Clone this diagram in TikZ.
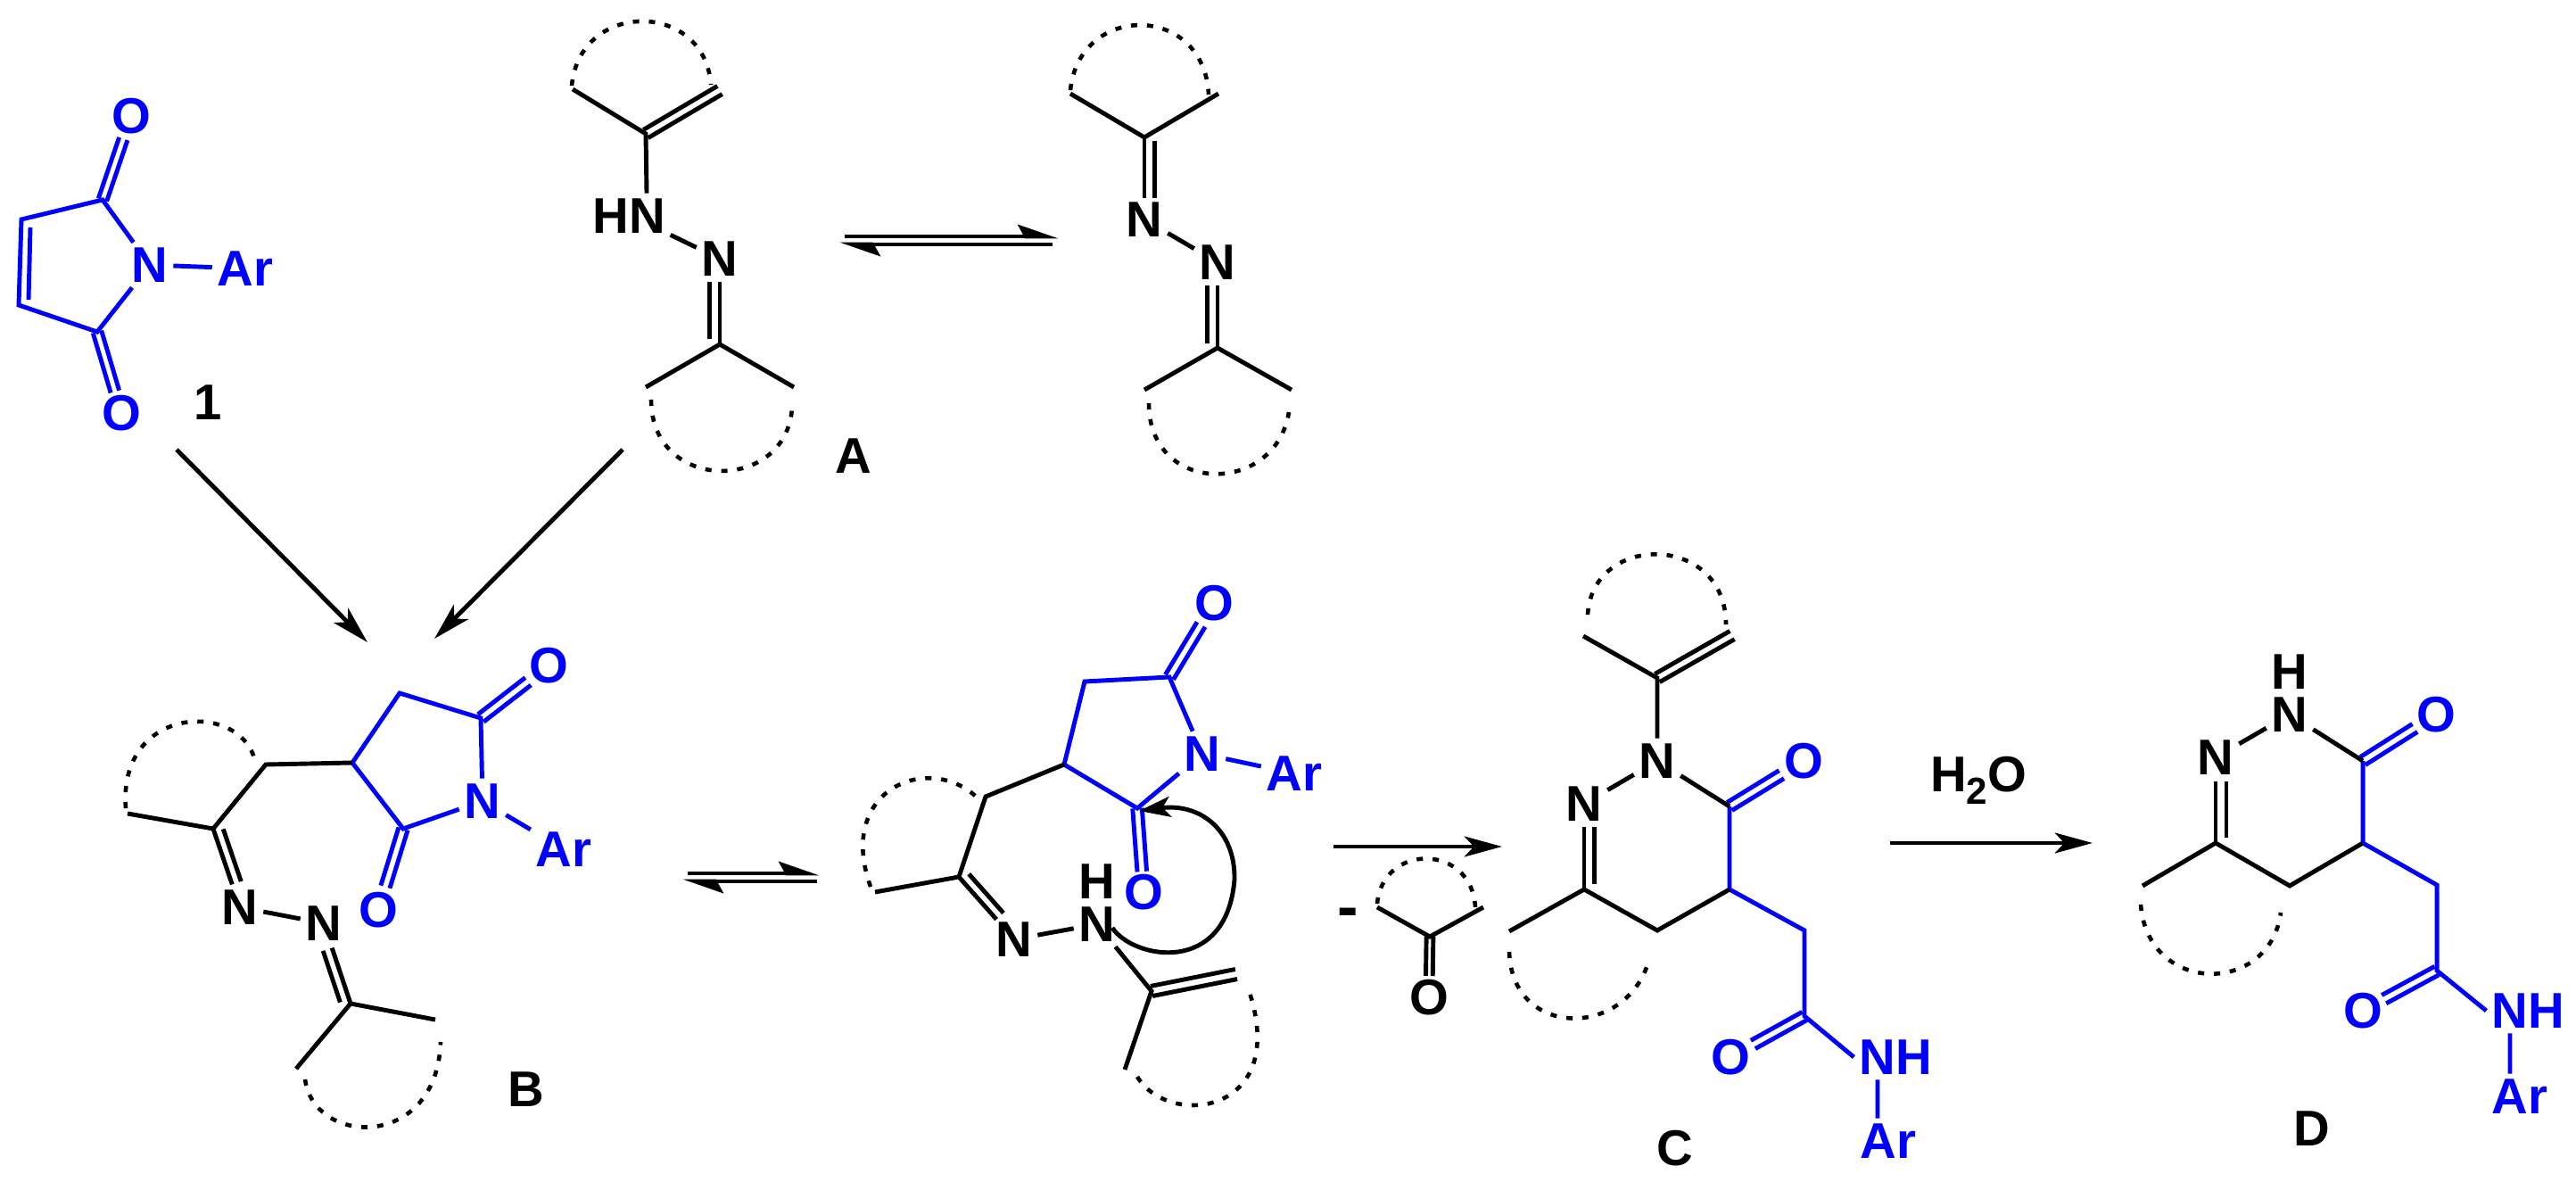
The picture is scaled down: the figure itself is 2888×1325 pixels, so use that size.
\documentclass[tikz,border=0pt]{standalone}
\usepackage{fontspec}
\setmainfont{Liberation Sans}
\usetikzlibrary{arrows.meta,calc}
\definecolor{mblue}{RGB}{0,0,255}
\tikzset{
    atom/.style={inner sep=1pt, font=\bfseries\fontsize{16}{16}\selectfont},
    ring/.style={line width=1.3pt, dash pattern=on 2pt off 3.1pt},
    rxn/.style={-{Stealth[length=12pt,width=6.5pt,inset=3pt]}},
    eqm/.style={-{Stealth[harpoon,length=11pt,width=7.5pt,inset=2pt]}},
}
% a--b and a second stroke beside it, both stopped short of b
\newcommand{\dbond}[6][0pt]{%
    \draw[shorten >=#6] ($(#2)!#4!90:(#3)$) -- ($(#3)!#4!-90:(#2)$);
    \draw[shorten <=#1, shorten >=#6] ($(#2)!#5!90:(#3)$) -- ($(#3)!#5!-90:(#2)$);
}

\begin{document}
\begin{tikzpicture}[x=.01cm, y=-.01cm, line width=1.4pt]
    \useasboundingbox (0, 0) rectangle (2888, 1325);

    % maleimide 1
    \begin{scope}[color=mblue]
        \node[atom] (N1)  at (168, 297) {N};
        \node[atom] (Ar1) at (275, 301) {Ar};
        \node[atom] (O1a) at (147, 130) {O};
        \node[atom] (O1b) at (136, 463) {O};
        \coordinate (C1a) at (115, 224);
        \coordinate (C1b) at (109, 372);
        \coordinate (C1c) at (24, 246);
        \coordinate (C1d) at (21, 342);
        \coordinate (C1e) at (34, 255);
        \coordinate (C1f) at (32, 336);
        \draw (N1) -- (C1a) -- (C1c) -- (C1d) -- (C1b) -- (N1);
        \draw (C1e) -- (C1f);
        \draw (N1) -- (Ar1);
        \dbond{C1a}{O1a}{1.4pt}{-1.4pt}{.27cm}
        \dbond{C1b}{O1b}{1.4pt}{-1.4pt}{.25cm}
    \end{scope}
    \node[atom] (tag1) at (233, 451) {1};

    % hydrazone A, first form
    \node[atom] (HNA) at (705, 242) {HN};
    \node[atom] (NA)  at (807, 290) {N};
    \node[atom] (tagA) at (957, 511) {A};
    \coordinate (CAa) at (724, 150);
    \coordinate (CAb) at (642, 100);
    \coordinate (CAc) at (807, 101);
    \coordinate (CAd) at (807, 386);
    \coordinate (CAe) at (724, 434);
    \coordinate (CAf) at (890, 434);
    \draw ([xshift=.2cm]HNA.north) -- (CAa) -- (CAb);
    \dbond{CAa}{CAc}{1.5pt}{-1.5pt}{0pt}
    \draw ([yshift=.04cm]HNA.south east) -- (NA);
    \dbond[.06cm]{CAd}{NA}{0pt}{3.4pt}{.26cm}
    \draw (CAe) -- (CAd) -- (CAf);
    \draw[ring] (641, 96) .. controls (650, 0) and (790, 0) .. (797, 95);
    \draw[ring] (730, 448) .. controls (730, 553) and (882, 553) .. (888, 457);

    % hydrazone A, second form
    \node[atom] (NAa) at (1283, 246) {N};
    \node[atom] (NAb) at (1365, 294) {N};
    \coordinate (CBa) at (1283, 154);
    \coordinate (CBb) at (1200, 105);
    \coordinate (CBc) at (1366, 105);
    \coordinate (CBd) at (1365, 390);
    \coordinate (CBe) at (1283, 437);
    \coordinate (CBf) at (1448, 437);
    \draw (CBb) -- (CBa) -- (CBc);
    \dbond[.04cm]{CBa}{NAa}{0pt}{3.2pt}{.24cm}
    \draw (NAa) -- (NAb);
    \dbond[.05cm]{CBd}{NAb}{0pt}{3.2pt}{.26cm}
    \draw (CBe) -- (CBd) -- (CBf);
    \draw[ring] (1200, 101) .. controls (1210, 3) and (1350, 3) .. (1355, 106);
    \draw[ring] (1288, 452) .. controls (1288, 556) and (1430, 556) .. (1445, 462);

    % adduct B
    \begin{scope}[color=mblue]
        \node[atom] (NBr) at (541, 898) {N};
        \node[atom] (ArB) at (632, 952) {Ar};
        \node[atom] (OBa) at (615, 746) {O};
        \node[atom] (OBb) at (424, 1020) {O};
        \coordinate (BCa) at (395, 855);
        \coordinate (BCb) at (448, 777);
        \coordinate (BCc) at (539, 805);
        \coordinate (BCd) at (452, 929);
        \draw (BCa) -- (BCb) -- (BCc) -- (NBr) -- (BCd) -- (BCa);
        \draw (NBr) -- (ArB);
        \dbond{BCc}{OBa}{1.5pt}{-1.5pt}{.29cm}
        \dbond{BCd}{OBb}{1.5pt}{-1.5pt}{.27cm}
    \end{scope}
    \node[atom] (NBa) at (269, 1017) {N};
    \node[atom] (NBb) at (363, 1035) {N};
    \node[atom] (tagB) at (590, 1221) {B};
    \coordinate (BCe) at (298, 857);
    \coordinate (BCf) at (239, 929);
    \coordinate (BCg) at (143, 912);
    \coordinate (BCh) at (393, 1125);
    \coordinate (BCi) at (488, 1143);
    \coordinate (BCj) at (332, 1198);
    \draw (BCa) -- (BCe) -- (BCf) -- (BCg);
    \dbond[.04cm]{BCf}{NBa}{0pt}{3pt}{.27cm}
    \draw (NBa) -- (NBb);
    \dbond[.05cm]{BCh}{NBb}{0pt}{3pt}{.29cm}
    \draw (BCj) -- (BCh) -- (BCi);
    \draw[ring] (141, 906) .. controls (132, 790) and (270, 785) .. (286, 853);
    \draw[ring] (342, 1210) .. controls (352, 1285) and (490, 1290) .. (494, 1168);

    % intermediate with the curved arrow
    \begin{scope}[color=mblue]
        \node[atom] (NIr) at (1348, 845) {N};
        \node[atom] (ArI) at (1451, 867) {Ar};
        \node[atom] (OIa) at (1361, 676) {O};
        \node[atom] (OIb) at (1282, 1000) {O};
        \coordinate (ICa) at (1193, 857);
        \coordinate (ICb) at (1216, 764);
        \coordinate (ICc) at (1311, 759);
        \coordinate (ICd) at (1275, 906);
        \draw (ICa) -- (ICb) -- (ICc) -- (NIr) -- (ICd) -- (ICa);
        \draw (NIr) -- (ArI);
        \dbond{ICc}{OIa}{1.5pt}{-1.5pt}{.28cm}
        \dbond{ICd}{OIb}{1.5pt}{-1.5pt}{.23cm}
    \end{scope}
    \node[atom] (NIa) at (1137, 1053) {N};
    \node[atom] (NIb) at (1230, 1036) {N};
    \node[atom] (HIb) at (1230, 988) {H};
    \coordinate (ICe) at (1105, 893);
    \coordinate (ICf) at (1075, 983);
    \coordinate (ICg) at (981, 1000);
    \coordinate (ICh) at (1291, 1111);
    \coordinate (ICi) at (1386, 1092);
    \coordinate (ICj) at (1261, 1199);
    \coordinate (curlA) at (1247, 1040);
    \coordinate (curlB) at (1384, 986);
    \coordinate (curlC) at (1277, 909);
    \draw (ICa) -- (ICe) -- (ICf) -- (ICg);
    \dbond[.05cm]{ICf}{NIa}{0pt}{3pt}{.3cm}
    \draw (NIa) -- (NIb) -- (ICh) -- (ICj);
    \dbond{ICh}{ICi}{1.6pt}{-1.6pt}{0pt}
    \draw[ring] (976, 994) .. controls (935, 880) and (1050, 840) .. (1101, 900);
    \draw[ring] (1275, 1207) .. controls (1310, 1265) and (1445, 1250) .. (1401, 1113);
    \draw[-{Stealth[length=10pt,width=6.5pt,inset=2.5pt]}] (curlA) .. controls (1270, 1075) and (1375, 1095) .. (curlB) .. controls (1385, 930) and (1345, 900) .. (curlC);

    % lost ketone
    \node[atom, font=\bfseries\fontsize{20}{20}\selectfont] (minus) at (1511, 1029) {-};
    \node[atom] (OK) at (1602, 1118) {O};
    \coordinate (KCa) at (1603, 1050);
    \coordinate (KCb) at (1544, 1017);
    \coordinate (KCc) at (1663, 1017);
    \draw (KCb) -- (KCa) -- (KCc);
    \dbond{KCa}{OK}{1.1pt}{-1.1pt}{.24cm}
    \draw[ring] (1544, 1013) .. controls (1550, 945) and (1650, 945) .. (1654, 1017);

    % product C
    \begin{scope}[color=mblue]
        \node[atom] (OCa) at (2022, 853) {O};
        \node[atom] (OCb) at (1940, 1185) {O};
        \node[atom] (NHC) at (2125, 1185) {NH};
        \node[atom] (ArC) at (2117, 1279) {Ar};
        \coordinate (CCa) at (1939, 904);
        \coordinate (CCb) at (1939, 997);
        \coordinate (CCc) at (2023, 1043);
        \coordinate (CCd) at (2023, 1139);
        \draw (CCa) -- (CCb) -- (CCc) -- (CCd) -- (NHC.west);
        \draw ([xshift=-.2cm]NHC.south) -- ([xshift=-.12cm]ArC.north);
        \dbond{CCa}{OCa}{1.5pt}{-1.5pt}{.29cm}
        \dbond{CCd}{OCb}{1.5pt}{-1.5pt}{.29cm}
    \end{scope}
    \node[atom] (NCa) at (1858, 853) {N};
    \node[atom] (NCb) at (1776, 901) {N};
    \node[atom] (tagC) at (1878, 1287) {C};
    \coordinate (CCe) at (1858, 760);
    \coordinate (CCf) at (1775, 713);
    \coordinate (CCg) at (1942, 712);
    \coordinate (CCh) at (1776, 997);
    \coordinate (CCi) at (1858, 1043);
    \coordinate (CCj) at (1692, 1044);
    \draw (CCf) -- (CCe) -- (NCa) -- (NCb);
    \dbond{CCe}{CCg}{1.5pt}{-1.5pt}{0pt}
    \draw (NCa) -- (CCa);
    \dbond[.06cm]{CCh}{NCb}{0pt}{-3.2pt}{.26cm}
    \draw (CCj) -- (CCh) -- (CCi) -- (CCb);
    \draw[ring] (1780, 689) .. controls (1785, 597) and (1935, 597) .. (1935, 700);
    \draw[ring] (1692, 1067) .. controls (1695, 1165) and (1825, 1165) .. (1849, 1075);

    % product D
    \begin{scope}[color=mblue]
        \node[atom] (ODa) at (2731, 801) {O};
        \node[atom] (ODb) at (2649, 1133) {O};
        \node[atom] (NHD) at (2834, 1133) {NH};
        \node[atom] (ArD) at (2825, 1229) {Ar};
        \coordinate (DCa) at (2649, 853);
        \coordinate (DCb) at (2649, 945);
        \coordinate (DCc) at (2732, 992);
        \coordinate (DCd) at (2732, 1088);
        \draw (DCa) -- (DCb) -- (DCc) -- (DCd) -- (NHD.west);
        \draw ([xshift=-.2cm]NHD.south) -- ([xshift=-.11cm]ArD.north);
        \dbond{DCa}{ODa}{1.5pt}{-1.5pt}{.28cm}
        \dbond{DCd}{ODb}{1.5pt}{-1.5pt}{.27cm}
    \end{scope}
    \node[atom] (NDa) at (2567, 801) {N};
    \node[atom] (HDa) at (2567, 753) {H};
    \node[atom] (NDb) at (2484, 849) {N};
    \node[atom] (tagD) at (2592, 1265) {D};
    \coordinate (DCe) at (2484, 945);
    \coordinate (DCf) at (2567, 993);
    \coordinate (DCg) at (2402, 993);
    \draw (NDb) -- (NDa) -- (DCa);
    \dbond[.06cm]{DCe}{NDb}{0pt}{-3.4pt}{.27cm}
    \draw (DCg) -- (DCe) -- (DCf) -- (DCb);
    \draw[ring] (2400, 1014) .. controls (2408, 1116) and (2545, 1116) .. (2557, 1023);

    % reaction arrows
    \node[atom] (water) at (2218, 875) {H\raisebox{-.25em}{\fontsize{12}{12}\selectfont 2}O};
    \coordinate (mA) at (198, 504);
    \coordinate (mB) at (412, 720);
    \coordinate (hA) at (698, 504);
    \coordinate (hB) at (487, 716);
    \coordinate (toC) at (1495, 949);
    \coordinate (inC) at (1684, 949);
    \coordinate (toD) at (2119, 945);
    \coordinate (inD) at (2346, 945);
    \coordinate (eqa) at (947, 265);
    \coordinate (eqb) at (1187, 265);
    \coordinate (eqc) at (1180, 274);
    \coordinate (eqd) at (941, 274);
    \coordinate (eqe) at (771, 979);
    \coordinate (eqf) at (919, 979);
    \coordinate (eqg) at (916, 988);
    \coordinate (eqh) at (765, 988);
    \draw[rxn] (mA) -- (mB);
    \draw[rxn] (hA) -- (hB);
    \draw[rxn] (toC) -- (inC);
    \draw[rxn] (toD) -- (inD);
    \draw[eqm] (eqa) -- (eqb);
    \draw[eqm] (eqc) -- (eqd);
    \draw[eqm] (eqe) -- (eqf);
    \draw[eqm] (eqg) -- (eqh);
\end{tikzpicture}
\end{document}
